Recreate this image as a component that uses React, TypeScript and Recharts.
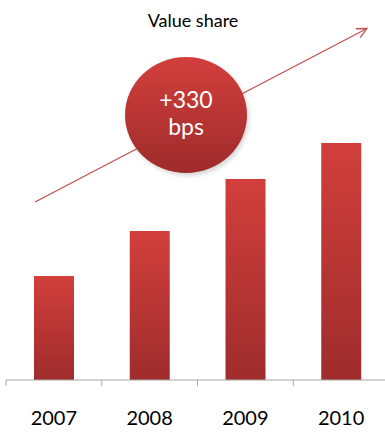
import React from 'react';
import { BarChart, Bar, XAxis, YAxis } from 'recharts';

// Value share by year (arbitrary units)
const years = ['2007', '2008', '2009', '2010'];
const shareValues = [10.4, 14.9, 20.1, 23.7];
const yMax = 38;
const title = 'Value share';
const bubbleLines = ['+330', 'bps'];

const data = years.map((year, i) => ({ year, share: shareValues[i] }));

const W = 390;
const H = 432;
const LEFT = 6;
const RIGHT = 1;
const AXIS_H = 52;
const PLOT_W = W - LEFT - RIGHT;
const PLOT_BOTTOM = H - AXIS_H;
const BAND = PLOT_W / years.length;
const FONT = 'Lato, "Open Sans", sans-serif';

// category tick: boundary tick mark on the left of the band, label centred
const YearTick = ({ x, payload }: any) => {
  const left = x - BAND / 2;
  return (
    <g>
      <line x1={left} y1={PLOT_BOTTOM} x2={left} y2={PLOT_BOTTOM + 6} stroke="#a6a6a6" />
      <text x={x} y={PLOT_BOTTOM + 45} textAnchor="middle" fontSize={20} fill="#000" fontFamily={FONT}>
        {payload.value}
      </text>
    </g>
  );
};

// trend arrow, bubble and title
const Annotations = () => {
  const cx = 186;
  const cy = 115;
  return (
    <g>
      <text x={W / 2 - 2} y={27} textAnchor="middle" fontSize={18} fill="#000" fontFamily={FONT}>
        {title}
      </text>
      <line x1={35} y1={202} x2={366} y2={29} stroke="#c0504d" strokeWidth={1.3} markerEnd="url(#arrowHead)" />
      <ellipse cx={cx + 2} cy={cy + 3} rx={61} ry={58} fill="#000" opacity={0.15} filter="url(#blur)" />
      <ellipse cx={cx} cy={cy} rx={61} ry={58} fill="url(#bubbleFill)" />
      <text x={cx} y={cy - 7} textAnchor="middle" fontSize={23} fill="#fff" fontFamily={FONT}>
        {bubbleLines[0]}
      </text>
      <text x={cx} y={cy + 20} textAnchor="middle" fontSize={23} fill="#fff" fontFamily={FONT}>
        {bubbleLines[1]}
      </text>
    </g>
  );
};

export default function App() {
  return (
    <div style={{ position: 'absolute', left: 0, top: 0, width: 385, height: 432, overflow: 'hidden', background: '#fff' }}>
      <BarChart
        width={W}
        height={H}
        data={data}
        margin={{ top: 0, right: RIGHT, left: LEFT, bottom: 0 }}
        barCategoryGap={0}
      >
        <defs>
          <linearGradient id="barFill" x1="0" y1="0" x2="0" y2="1">
            <stop offset="0%" stopColor="#d13f3c" />
            <stop offset="100%" stopColor="#9f2c2c" />
          </linearGradient>
          <linearGradient id="bubbleFill" x1="0" y1="0" x2="0" y2="1">
            <stop offset="0%" stopColor="#d23f3c" />
            <stop offset="100%" stopColor="#9e2b2b" />
          </linearGradient>
          <filter id="blur" x="-20%" y="-20%" width="140%" height="140%">
            <feGaussianBlur stdDeviation="2" />
          </filter>
          <marker id="arrowHead" markerWidth="12" markerHeight="12" refX="9" refY="5" orient="auto" markerUnits="userSpaceOnUse">
            <path d="M0,0 L10,5 L0,10" fill="none" stroke="#c0504d" strokeWidth={1.3} />
          </marker>
        </defs>
        <XAxis
          dataKey="year"
          height={AXIS_H}
          axisLine={{ stroke: '#a6a6a6' }}
          tickLine={false}
          tick={<YearTick />}
          interval={0}
        />
        <YAxis hide domain={[0, yMax]} />
        <Bar dataKey="share" fill="url(#barFill)" barSize={40} isAnimationActive={false} />
        <Annotations />
      </BarChart>
    </div>
  );
}
